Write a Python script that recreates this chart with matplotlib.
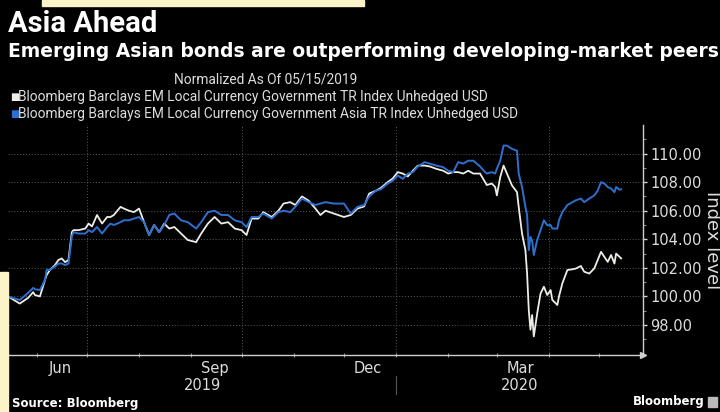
import numpy as np
import matplotlib
matplotlib.use("Agg")
import matplotlib.pyplot as plt
import matplotlib.dates as mdates
import matplotlib.transforms as mtransforms
from matplotlib.patches import Rectangle

dates = [
    "2019-05-15", "2019-05-22", "2019-05-27", "2019-05-30", "2019-05-31", "2019-06-03", "2019-06-06", "2019-06-07", "2019-06-09", "2019-06-12",
    "2019-06-14", "2019-06-16", "2019-06-18", "2019-06-20", "2019-06-22", "2019-06-23", "2019-06-26", "2019-06-30", "2019-07-02", "2019-07-04",
    "2019-07-07", "2019-07-10", "2019-07-13", "2019-07-15", "2019-07-17", "2019-07-21", "2019-07-23", "2019-07-26", "2019-07-29", "2019-08-01",
    "2019-08-04", "2019-08-07", "2019-08-10", "2019-08-13", "2019-08-16", "2019-08-19", "2019-08-22", "2019-08-26", "2019-08-30", "2019-09-04",
    "2019-09-07", "2019-09-11", "2019-09-15", "2019-09-19", "2019-09-23", "2019-09-27", "2019-10-01", "2019-10-04", "2019-10-07", "2019-10-11",
    "2019-10-14", "2019-10-19", "2019-10-23", "2019-10-26", "2019-10-30", "2019-11-02", "2019-11-06", "2019-11-10", "2019-11-14", "2019-11-17",
    "2019-11-20", "2019-11-25", "2019-12-01", "2019-12-05", "2019-12-09", "2019-12-13", "2019-12-16", "2019-12-20", "2019-12-23", "2019-12-27",
    "2019-12-30", "2020-01-02", "2020-01-05", "2020-01-08", "2020-01-11", "2020-01-14", "2020-01-18", "2020-01-21", "2020-01-25", "2020-01-29",
    "2020-02-01", "2020-02-04", "2020-02-07", "2020-02-10", "2020-02-13", "2020-02-16", "2020-02-20", "2020-02-23", "2020-02-24", "2020-02-27",
    "2020-02-29", "2020-03-01", "2020-03-03", "2020-03-05", "2020-03-07", "2020-03-10", "2020-03-13", "2020-03-14", "2020-03-16", "2020-03-18",
    "2020-03-19", "2020-03-20", "2020-03-21", "2020-03-22", "2020-03-23", "2020-03-25", "2020-03-27", "2020-03-29", "2020-03-31", "2020-04-02",
    "2020-04-03", "2020-04-06", "2020-04-07", "2020-04-09", "2020-04-12", "2020-04-15", "2020-04-17", "2020-04-20", "2020-04-22", "2020-04-25",
    "2020-04-28", "2020-04-30", "2020-05-02", "2020-05-04", "2020-05-06", "2020-05-08", "2020-05-10", "2020-05-11", "2020-05-13", "2020-05-14",
]

em_index = [
    100.0, 99.5, 99.9, 100.3, 100.1, 100.0, 101.15, 101.5, 101.85, 102.2,
    102.55, 102.66, 102.4, 102.55, 104.5, 104.64, 104.64, 104.75, 105.1, 104.9,
    105.7, 105.1, 105.56, 105.56, 105.7, 106.27, 106.15, 106.0, 105.9, 106.15,
    105.2, 104.3, 105.0, 104.5, 105.1, 104.75, 104.86, 104.4, 103.95, 103.8,
    104.4, 105.1, 105.56, 105.1, 105.2, 104.75, 104.64, 104.3, 105.45, 105.45,
    105.9, 105.56, 106.0, 106.5, 106.6, 106.4, 107.0, 106.7, 106.15, 105.7,
    106.0, 105.8, 105.56, 105.7, 106.15, 106.3, 107.2, 107.4, 107.6, 108.0,
    108.25, 108.7, 108.6, 108.4, 108.8, 109.16, 109.16, 109.1, 108.93, 108.8,
    108.6, 108.7, 108.7, 108.6, 108.8, 108.6, 108.6, 108.0, 107.8, 107.9,
    107.66, 107.07, 108.35, 109.16, 108.6, 107.77, 107.3, 106.27, 104.4, 103.24,
    101.6, 99.06, 97.67, 98.7, 97.2, 98.8, 100.2, 100.68, 100.1, 100.45,
    99.76, 99.4, 100.0, 100.92, 101.85, 101.9, 101.95, 102.13, 101.73, 101.6,
    101.96, 102.55, 103.12, 102.77, 102.42, 102.9, 102.3, 103.0, 102.77, 102.66,
]

asia_index = [
    100.0, 99.75, 100.25, 100.6, 100.5, 100.45, 101.15, 101.85, 101.85, 102.1,
    102.3, 102.3, 102.2, 102.3, 104.2, 104.5, 104.4, 104.4, 104.64, 104.5,
    104.86, 104.4, 104.86, 105.1, 105.0, 105.2, 105.33, 105.33, 105.45, 105.56,
    105.2, 104.3, 105.0, 104.5, 105.0, 105.7, 105.8, 105.33, 105.2, 104.75,
    105.2, 105.9, 106.0, 105.7, 105.7, 105.33, 105.2, 104.86, 105.56, 105.56,
    105.8, 105.45, 105.9, 106.0, 105.9, 106.27, 106.85, 106.6, 106.4, 106.5,
    106.6, 106.5, 106.5, 105.8, 106.27, 106.4, 107.0, 107.4, 107.5, 107.9,
    108.1, 108.47, 108.23, 108.6, 108.7, 109.1, 109.4, 109.3, 109.16, 109.05,
    108.8, 108.7, 109.4, 109.3, 109.5, 109.5, 109.1, 108.7, 108.6, 108.7,
    108.6, 108.93, 109.5, 110.56, 110.56, 110.33, 110.2, 108.6, 107.66, 106.27,
    105.7, 103.24, 104.17, 103.9, 102.9, 103.94, 104.64, 105.33, 104.98, 105.0,
    104.75, 104.75, 105.33, 105.9, 106.4, 106.6, 106.73, 106.85, 106.6, 106.85,
    107.07, 107.4, 108.0, 107.9, 107.66, 107.55, 107.3, 107.66, 107.47, 107.5,
]

em_label = "Bloomberg Barclays EM Local Currency Government TR Index Unhedged USD"
asia_label = "Bloomberg Barclays EM Local Currency Government Asia TR Index Unhedged USD"
month_labels = ["Jun", "Sep", "Dec", "Mar"]
label_months = ["2019-06-15", "2019-09-15", "2019-12-15", "2020-03-15"]

WHITE = "#eeede6"
BLUE = "#2f6fd0"
GREY = "#cfcfcf"
NARROW = ["Roboto", "DejaVu Sans"]

x = np.array(dates, dtype="datetime64[D]")

fig = plt.figure(figsize=(7.2, 4.12), dpi=100, facecolor="black")

# cream watermark bits around the edges
fig.patches.append(Rectangle((0, 0), 8 / 720, 140 / 412, transform=fig.transFigure,
                             color="#fdf3c8", zorder=0))
fig.patches.append(Rectangle((42 / 720, 1 - 6 / 412), 322 / 720, 6 / 412,
                             transform=fig.transFigure, color="#fdf3c8", zorder=0))

ax = fig.add_axes([8 / 720, 1 - 355 / 412, 635 / 720, 230 / 412])
ax.set_facecolor("black")

ax.plot(x, em_index, color=WHITE, lw=1.3, zorder=3)
ax.plot(x, asia_index, color=BLUE, lw=1.4, zorder=4)

ax.set_xlim(np.datetime64("2019-05-15"), np.datetime64("2020-05-27"))
ax.set_ylim(95.9, 112.0)

# y axis on the right
ax.yaxis.tick_right()
ax.set_yticks(np.arange(98, 111, 2))
ax.set_yticks(np.arange(97, 112, 2), minor=True)
ax.yaxis.set_major_formatter(matplotlib.ticker.FormatStrFormatter("%.2f"))
ax.tick_params(axis="y", which="major", colors=GREY, labelcolor="#dddddd",
               labelsize=10.5, length=3, width=1, pad=2)
ax.tick_params(axis="y", which="minor", colors="#888888", length=2, width=0.8)
ax.yaxis.set_label_position("right")
ax.set_ylabel("Index level", rotation=270, color="#dddddd", fontsize=13, labelpad=14)

for s in ["left", "top"]:
    ax.spines[s].set_visible(False)
for s in ["right", "bottom"]:
    ax.spines[s].set_color(GREY)
    ax.spines[s].set_linewidth(1)

# x axis: monthly ticks, labels in mid month
ax.xaxis.set_major_locator(mdates.MonthLocator())
ax.xaxis.set_major_formatter(matplotlib.ticker.NullFormatter())
ax.tick_params(axis="x", which="major", colors="#999999", length=3, direction="inout", width=0.8)
ax.set_xticks(np.array(label_months, dtype="datetime64[D]"), month_labels, minor=True)
ax.tick_params(axis="x", which="minor", length=0, labelcolor="#dddddd", labelsize=10.5, pad=4)

# gridlines
for v in np.arange(98, 111, 2):
    ax.axhline(v, color="#5a5a5a", lw=0.7, ls=(0, (1, 2)), zorder=1)
for q in ["2019-07-01", "2019-10-01", "2020-01-01", "2020-04-01"]:
    ax.axvline(np.datetime64(q), color="#5a5a5a", lw=0.7, ls=(0, (1, 2)), zorder=1)

# years, centred on their visible span
blend = mtransforms.blended_transform_factory(ax.transData, ax.transAxes)
xl = ax.get_xlim()
yb = mdates.date2num(np.datetime64("2020-01-01"))
ax.text((xl[0] + yb) / 2, -0.1, "2019", transform=blend, ha="center", va="top",
        color="#dddddd", fontsize=10.5)
ax.text((yb + xl[1]) / 2, -0.1, "2020", transform=blend, ha="center", va="top",
        color="#dddddd", fontsize=10.5)
ax.plot([yb, yb], [-0.09, -0.17], transform=blend, color="#555555", lw=0.8, clip_on=False)

# arrow at the axis corner
ax.plot([1], [0], marker=">", color=GREY, markersize=4, transform=ax.transAxes, clip_on=False)

# titles
fig.text(8 / 720, 1 - 10 / 412, "Asia Ahead", color="white", fontsize=21,
         fontweight="bold", family=NARROW, va="top")
fig.text(8 / 720, 1 - 42 / 412, "Emerging Asian bonds are outperforming developing-market peers",
         color="white", fontsize=13.5, fontweight="bold", va="top")

# legend
fig.text(266 / 720, 1 - 80 / 412, "Normalized As Of 05/15/2019", color="#dddddd",
         fontsize=9.9, ha="center", va="center", family=NARROW)
fig.text(10 / 720, 1 - 97 / 412, "\u25a0", color=WHITE, fontsize=7, va="center")
fig.text(18 / 720, 1 - 97 / 412, em_label, color="#dddddd", fontsize=9.9, va="center", family=NARROW)
fig.text(10 / 720, 1 - 114 / 412, "\u25a0", color=BLUE, fontsize=7, va="center")
fig.text(18 / 720, 1 - 114 / 412, asia_label, color="#dddddd", fontsize=9.9, va="center", family=NARROW)

# footer
fig.text(12 / 720, 1 - 404 / 412, "Source: Bloomberg", color="white", fontsize=8.5,
         fontweight="bold", va="center")
fig.text(705 / 720, 1 - 402 / 412, "Bloomberg", color="white", fontsize=8.5,
         fontweight="bold", va="center", ha="right")
fig.patches.append(Rectangle((708 / 720, 1 - 407 / 412), 9 / 720, 10 / 412,
                             transform=fig.transFigure, color="#bbbbbb", zorder=2))

fig.savefig("out.png", dpi=100, facecolor="black")
